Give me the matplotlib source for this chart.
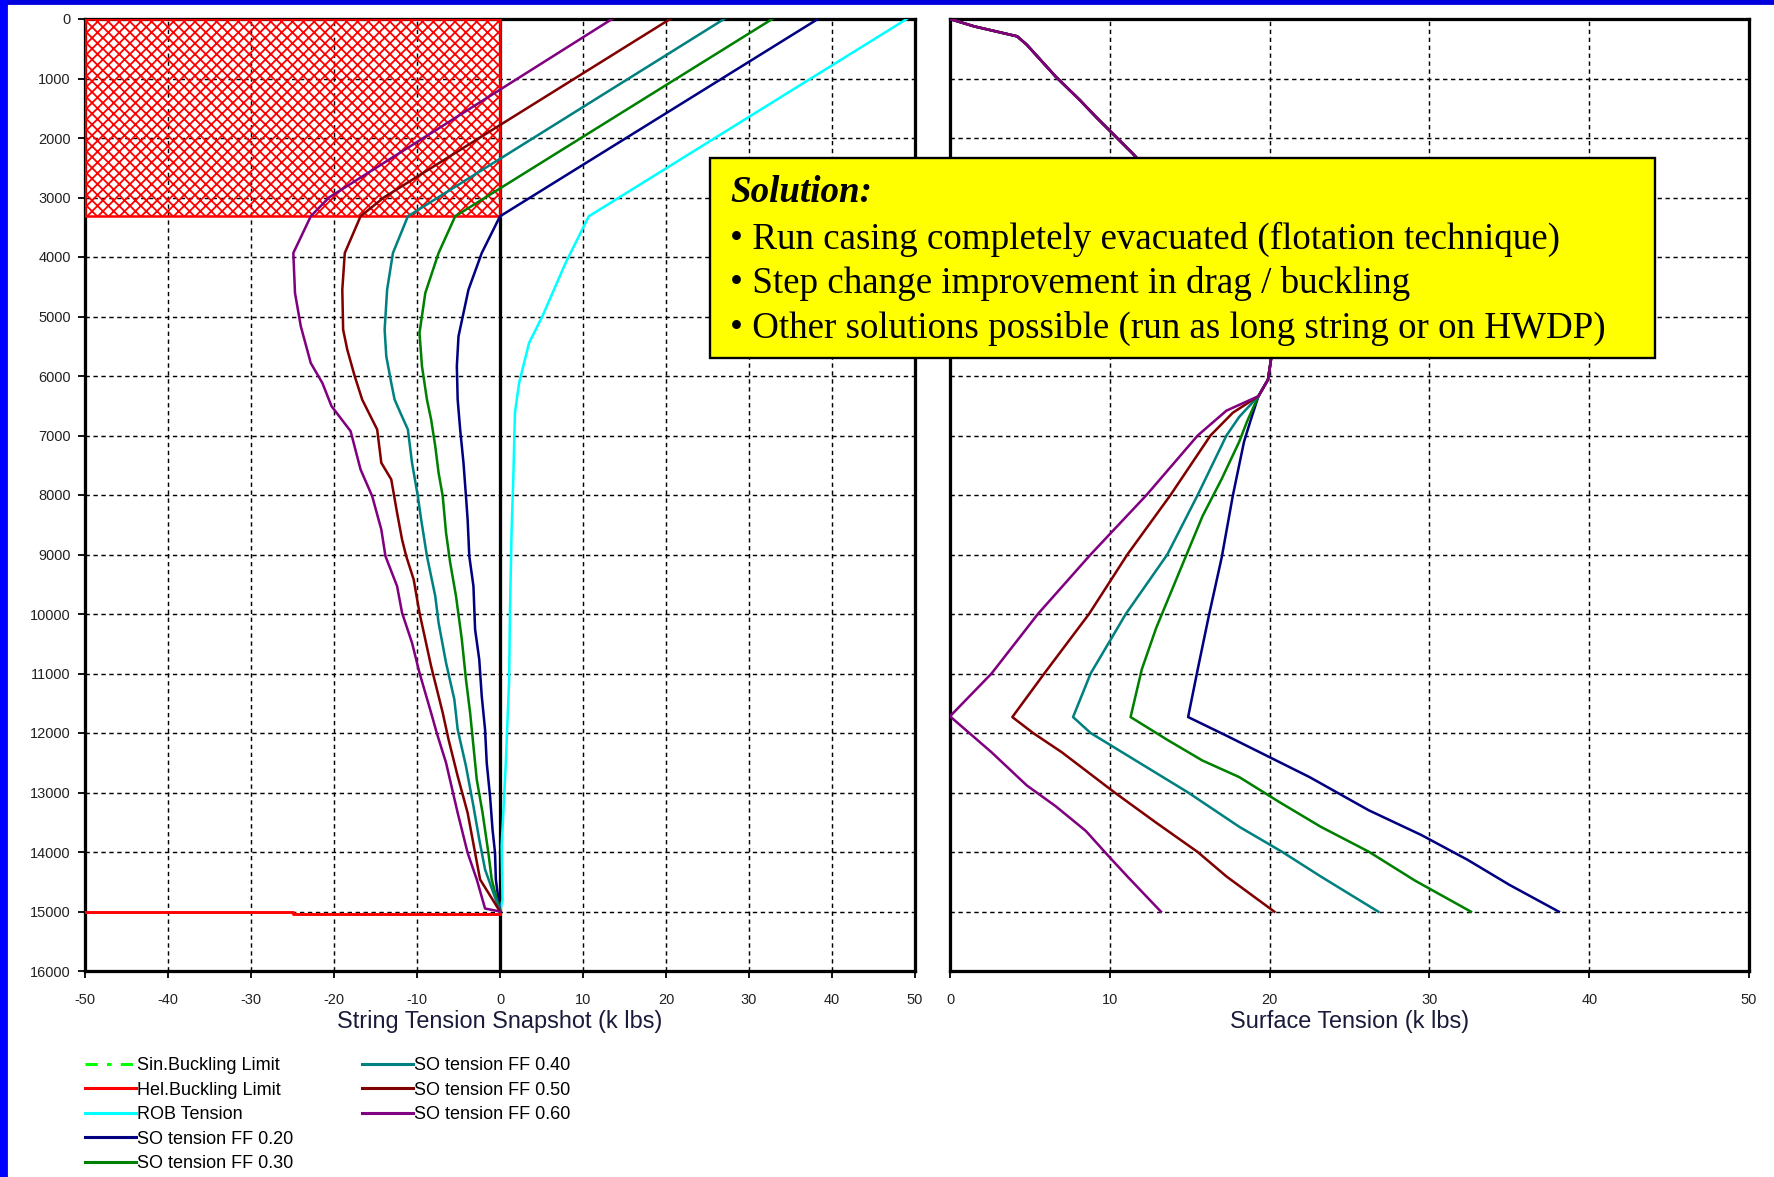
import numpy as np
import matplotlib.pyplot as plt
from matplotlib.patches import Rectangle
from matplotlib.lines import Line2D

plt.rcParams['font.family'] = ['Liberation Sans', 'DejaVu Sans']
plt.rcParams['hatch.linewidth'] = 1.0
plt.rcParams['axes.unicode_minus'] = False

# ---- left panel: string tension snapshot (k lbs) vs depth (ft)
rob_depth = [0, 3316, 4101, 4998, 5445, 6118, 6619, 7739, 8580, 9980, 11101, 12501, 13902, 14800, 15000]
rob_tension = [49.0, 10.7, 7.9, 5.1, 3.5, 2.3, 1.8, 1.6, 1.4, 1.2, 1.1, 0.7, 0.2, 0.3, 0.0]

so20_depth = [0, 3316, 3933, 4550, 5333, 5837, 6395, 6899, 7459, 8020, 8412, 9028, 9532, 10260,
              10765, 11381, 11941, 12501, 13062, 13622, 14014, 14462, 15000]
so20 = [38.3, 0.0, -2.2, -3.8, -5.0, -5.2, -5.1, -4.8, -4.4, -4.1, -3.9, -3.7, -3.2, -3.0,
        -2.5, -2.2, -1.8, -1.6, -1.2, -0.9, -0.6, -0.5, 0.0]

so30_depth = [0, 3316, 3933, 4605, 5277, 5837, 6398, 6731, 7179, 7627, 8020, 8636, 9140, 9700,
              10428, 11101, 11661, 12221, 12782, 13342, 14014, 14462, 15000]
so30 = [32.8, -5.4, -7.4, -9.0, -9.7, -9.4, -8.8, -8.3, -7.8, -7.4, -6.9, -6.5, -6.0, -5.3,
        -4.6, -4.1, -3.6, -3.2, -2.8, -2.1, -1.4, -1.0, 0.0]

so40_depth = [0, 3316, 3933, 4549, 5221, 5669, 6118, 6395, 6619, 6899, 7459, 8020, 8412, 9028,
              9700, 10148, 10821, 11437, 11941, 12557, 13230, 13790, 14294, 15000]
so40 = [27.0, -11.1, -12.9, -13.6, -13.9, -13.7, -13.1, -12.7, -12.0, -11.1, -10.6, -9.9, -9.5, -8.8,
        -7.8, -7.4, -6.5, -5.5, -5.1, -4.1, -3.2, -2.5, -1.8, 0.0]

so50_depth = [0, 3000, 3316, 3933, 4549, 5221, 5557, 6006, 6398, 6899, 7459, 7739, 8300, 8748,
              9028, 9420, 9980, 10877, 11661, 12109, 12725, 13342, 14014, 14462, 15000]
so50 = [20.5, -14.0, -16.8, -18.7, -19.0, -18.9, -18.4, -17.5, -16.6, -14.8, -14.3, -13.1, -12.4, -11.8,
        -11.3, -10.4, -9.7, -8.3, -6.9, -6.2, -5.1, -3.9, -3.0, -2.4, 0.0]

so60_depth = [0, 3000, 3316, 3933, 4605, 5165, 5782, 6118, 6507, 6927, 7571, 8020, 8580, 9028,
              9532, 9980, 10484, 10989, 11661, 12008, 12501, 13342, 14014, 14462, 14950, 15000]
so60 = [13.5, -20.6, -22.8, -24.9, -24.7, -24.0, -22.8, -21.4, -20.3, -18.0, -16.8, -15.4, -14.3, -13.8,
        -12.4, -11.8, -10.6, -9.7, -8.3, -7.6, -6.5, -5.1, -3.9, -2.8, -1.8, 0.0]

hel_depth = [15000, 15000, 15050, 15050]
hel_x = [-50, -25, -25, 0]
zone_depth = 3316   # hatched helical buckling zone, x from -50 to 0

# ---- right panel: surface tension (k lbs) vs depth (ft)
top_depth = [0, 123, 291, 431, 964, 1356, 1664, 2252, 3000, 4000, 5000, 5697, 6061, 6339]
top_tension = [0.0, 1.5, 4.2, 4.8, 6.6, 8.1, 9.2, 11.4, 14.0, 17.5, 19.6, 20.1, 19.9, 19.3]

s20_depth = [6756, 7104, 8009, 9053, 10027, 10932, 11732, 12045, 12393, 12741, 13298, 13715, 14133, 14551, 15003]
s20 = [18.8, 18.4, 17.7, 17.0, 16.2, 15.5, 14.9, 17.3, 19.9, 22.5, 26.2, 29.5, 32.4, 35.0, 38.1]
s30_depth = [6756, 7104, 7731, 8357, 9262, 10236, 10932, 11732, 12115, 12463, 12741, 13159, 13576, 13994, 14481, 15003]
s30 = [18.6, 18.1, 17.0, 15.8, 14.4, 12.9, 12.0, 11.3, 13.6, 15.8, 18.1, 20.6, 23.2, 26.2, 29.1, 32.6]
s40_depth = [6687, 7000, 8000, 9000, 10000, 11000, 11732, 12000, 12672, 13000, 13576, 14000, 14411, 15003]
s40 = [18.1, 17.3, 15.5, 13.6, 11.0, 8.8, 7.7, 8.8, 12.9, 14.9, 18.1, 20.8, 23.2, 26.8]
s50_depth = [6617, 7000, 8000, 9000, 10000, 11000, 11732, 12000, 12324, 13000, 13507, 14000, 14411, 15003]
s50 = [17.7, 16.3, 13.8, 11.1, 8.7, 5.9, 3.9, 5.2, 7.0, 10.3, 12.9, 15.5, 17.3, 20.3]
s60_depth = [6582, 7000, 8000, 9000, 10000, 11000, 11720, 12324, 12880, 13228, 13646, 14063, 14411, 15003]
s60 = [17.3, 15.5, 12.3, 8.8, 5.5, 2.6, 0.0, 2.6, 4.8, 6.6, 8.5, 9.9, 11.1, 13.2]

labels = ['Sin.Buckling Limit', 'Hel.Buckling Limit', 'ROB Tension', 'SO tension FF 0.20',
          'SO tension FF 0.30', 'SO tension FF 0.40', 'SO tension FF 0.50', 'SO tension FF 0.60']
colors = ['#00ff00', '#ff0000', '#00ffff', '#000080', '#008000', '#008080', '#800000', '#800080']

W, H = 1774, 1177
dpi = 130
fig = plt.figure(figsize=(W / dpi, H / dpi), dpi=dpi, facecolor='white')
ax1 = fig.add_axes([85 / W, 1 - 971 / H, 830 / W, 952 / H])
ax2 = fig.add_axes([950 / W, 1 - 971 / H, 799 / W, 952 / H])

lw = 1.4
grid_style = dict(color='black', linestyle=(0, (3, 2.5)), linewidth=0.8)
tick_font = ['Liberation Sans Narrow', 'Liberation Sans', 'DejaVu Sans']

for ax in (ax1, ax2):
    ax.set_ylim(16000, 0)
    ax.set_yticks(np.arange(0, 16001, 1000))
    ax.grid(True, **grid_style)
    ax.set_axisbelow(True)
    for s in ax.spines.values():
        s.set_linewidth(1.8)
    ax.tick_params(axis='x', length=4, width=1, pad=8, labelsize=8, labelcolor='#222222')
    ax.tick_params(axis='y', length=4, width=1, pad=4, labelsize=8, labelcolor='#222222')

# left panel
ax1.set_xlim(-50, 50)
ax1.set_xticks(np.arange(-50, 51, 10))
ax1.set_yticklabels([str(v) for v in range(0, 16001, 1000)])
ax1.axvline(0, color='black', lw=1.8, zorder=2)
ax1.add_patch(Rectangle((-50, 0), 50, zone_depth, facecolor='none', edgecolor='#ff0000',
                        hatch='xxxx', lw=1.4, zorder=3))
ax1.plot(hel_x, hel_depth, color=colors[1], lw=1.6, zorder=4)
ax1.plot(rob_tension, rob_depth, color=colors[2], lw=lw, zorder=4)
for vals, dep, c in [(so20, so20_depth, colors[3]), (so30, so30_depth, colors[4]),
                     (so40, so40_depth, colors[5]), (so50, so50_depth, colors[6]),
                     (so60, so60_depth, colors[7])]:
    ax1.plot(vals, dep, color=c, lw=lw, zorder=4)
ax1.set_xlabel('String Tension Snapshot (k lbs)', fontsize=13, labelpad=2, color='#1a1a3a')

# right panel
ax2.set_xlim(0, 50)
ax2.set_xticks(np.arange(0, 51, 10))
ax2.tick_params(axis='y', length=0, labelleft=False)
for vals, dep, c in [(s20, s20_depth, colors[3]), (s30, s30_depth, colors[4]),
                     (s40, s40_depth, colors[5]), (s50, s50_depth, colors[6]),
                     (s60, s60_depth, colors[7])]:
    ax2.plot(top_tension + vals, top_depth + dep, color=c, lw=lw, zorder=4)
ax2.set_xlabel('Surface Tension (k lbs)', fontsize=13, labelpad=2, color='#1a1a3a')

for ax in (ax1, ax2):
    for t in ax.get_xticklabels() + ax.get_yticklabels():
        t.set_family(tick_font)

# legend in two blocks
handles = [Line2D([], [], color=colors[0], lw=1.7, linestyle=(0, (4, 3, 1.5, 3)))]
handles += [Line2D([], [], color=c, lw=1.7) for c in colors[1:]]
leg_kw = dict(loc='upper left', frameon=False, fontsize=10, handlelength=2.8,
              handletextpad=0.1, labelspacing=0.42, borderpad=0, borderaxespad=0)
fig.legend(handles[:5], labels[:5], bbox_to_anchor=(85 / W, 1 - 1057 / H), **leg_kw)
fig.legend(handles[5:], labels[5:], bbox_to_anchor=(362 / W, 1 - 1057 / H), **leg_kw)

# slide border
fig.add_artist(Rectangle((0, 1 - 4 / H), 1, 4 / H, transform=fig.transFigure,
                         color='#0000dd', zorder=5))
fig.add_artist(Rectangle((0, 0), 7 / W, 1, transform=fig.transFigure,
                         color='#0000ff', zorder=5))

# annotation box
fig.add_artist(Rectangle((710 / W, 1 - 358 / H), 945 / W, 200 / H, transform=fig.transFigure,
                         facecolor='#ffff00', edgecolor='black', lw=1.3, zorder=5))
serif = ['Liberation Serif', 'DejaVu Serif']
fig.text(730 / W, 1 - 193 / H, 'Solution:', family=serif, fontsize=20.5, fontweight='bold',
         fontstyle='italic', va='center', ha='left', zorder=6)
bullets = ['\u2022 Run casing completely evacuated (flotation technique)',
           '\u2022 Step change improvement in drag / buckling',
           '\u2022 Other solutions possible (run as long string or on HWDP)']
for i, t in enumerate(bullets):
    fig.text(730 / W, 1 - (239 + 44.5 * i) / H, t, family=serif, fontsize=20.5,
             va='center', ha='left', zorder=6)

fig.savefig('out.png', dpi=dpi, facecolor='white')
